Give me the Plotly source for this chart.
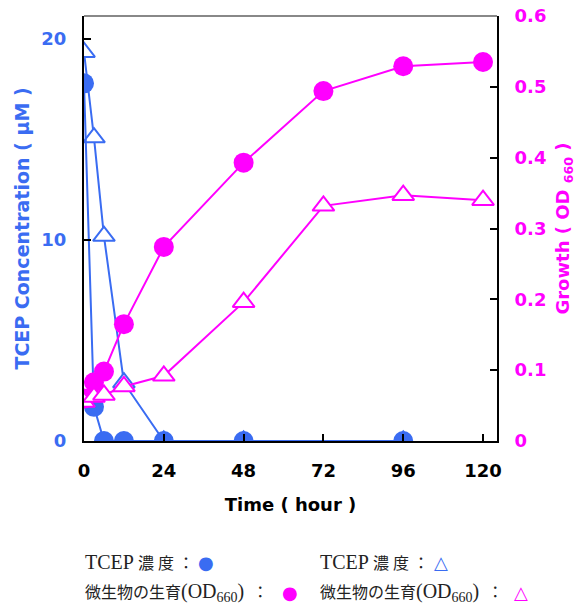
import plotly.graph_objects as go

# ---- data ----
tcep_circle_t = [0, 3, 6, 12, 24, 48, 96]
tcep_circle_v = [17.8, 1.7, 0.0, 0.0, 0.0, 0.0, 0.0]

tcep_tri_t = [0, 3, 6, 12, 24, 48, 96]
tcep_tri_v = [19.35, 15.1, 10.2, 2.9, 0.0, 0.0, 0.0]

growth_circle_t = [0, 3, 6, 12, 24, 48, 72, 96, 120]
growth_circle_v = [0.060, 0.083, 0.098, 0.165, 0.274, 0.393, 0.494, 0.529, 0.535]

growth_tri_t = [0, 3, 6, 12, 24, 48, 72, 96, 120]
growth_tri_v = [0.055, 0.062, 0.065, 0.077, 0.092, 0.196, 0.332, 0.347, 0.340]

x_ticks = [0, 24, 48, 72, 96, 120]
y_left_ticks = [0, 10, 20]
y_right_ticks = [0, 0.1, 0.2, 0.3, 0.4, 0.5, 0.6]
y_right_labels = ["0", "0.1", "0.2", "0.3", "0.4", "0.5", "0.6"]

BLUE = "#3a6cf2"
MAG = "#ff00ff"
TICKFONT = "DejaVu Sans"

fig = go.Figure()

fig.add_trace(go.Scatter(
    x=tcep_tri_t, y=tcep_tri_v, mode="lines+markers",
    line=dict(color=BLUE, width=2),
    marker=dict(symbol="triangle-up", size=19, color="white",
                line=dict(color=BLUE, width=2)),
    yaxis="y", showlegend=False))
fig.add_trace(go.Scatter(
    x=tcep_circle_t, y=tcep_circle_v, mode="lines+markers",
    line=dict(color=BLUE, width=2),
    marker=dict(symbol="circle", size=20, color=BLUE),
    yaxis="y", showlegend=False))
fig.add_trace(go.Scatter(
    x=growth_circle_t, y=growth_circle_v, mode="lines+markers",
    line=dict(color=MAG, width=2),
    marker=dict(symbol="circle", size=20, color=MAG),
    yaxis="y2", showlegend=False))
fig.add_trace(go.Scatter(
    x=growth_tri_t, y=growth_tri_v, mode="lines+markers",
    line=dict(color=MAG, width=2),
    marker=dict(symbol="triangle-up", size=19, color="white",
                line=dict(color=MAG, width=2)),
    yaxis="y2", showlegend=False))

W, H = 579, 604
L, R, T, B = 84, 497, 16, 441

fig.update_layout(
    width=W, height=H,
    margin=dict(l=L, r=W - R, t=T, b=H - B, autoexpand=False),
    paper_bgcolor="white", plot_bgcolor="white",
    xaxis=dict(
        range=[0, 124.2], tickvals=x_ticks, ticktext=[str(v) for v in x_ticks],
        ticks="inside", ticklen=7, tickwidth=2, tickcolor="black",
        showline=True, linecolor="black", linewidth=2,
        showgrid=False, zeroline=False,
        tickfont=dict(family=TICKFONT, size=18, color="black", weight="bold"),
        ticklabelstandoff=12,
        title=dict(text="<b>Time ( hour )</b>",
                   font=dict(family=TICKFONT, size=18, color="black"),
                   standoff=19),
    ),
    yaxis=dict(
        range=[0, 21.15], tickvals=y_left_ticks,
        ticks="inside", ticklen=7, tickwidth=2, tickcolor="black",
        showline=True, linecolor="black", linewidth=2,
        showgrid=False, zeroline=False,
        tickfont=dict(family=TICKFONT, size=18, color=BLUE, weight="bold"),
        ticklabelstandoff=12,
        title=dict(text="<b>TCEP Concentration ( μM )</b>",
                   font=dict(family=TICKFONT, size=19, color=BLUE),
                   standoff=7),
    ),
    yaxis2=dict(
        range=[0, 0.6], tickvals=y_right_ticks, ticktext=y_right_labels,
        overlaying="y", side="right",
        ticks="inside", ticklen=7, tickwidth=2, tickcolor="black",
        showline=True, linecolor="black", linewidth=2,
        showgrid=False, zeroline=False,
        tickfont=dict(family=TICKFONT, size=18, color=MAG, weight="bold"),
        ticklabelstandoff=12,
        title=dict(text="<b>Growth ( OD <sub>660</sub> )</b>",
                   font=dict(family=TICKFONT, size=18, color=MAG),
                   standoff=11),
    ),
)

# top border (gray)
fig.add_shape(type="line", xref="paper", yref="paper", x0=0, x1=1, y0=1, y1=1,
              line=dict(color="#888888", width=2))

# ---- legend-like caption below the chart ----
def px(xp):
    return (xp - L) / (R - L)

def py(yp):
    return (B - yp) / (B - T)

CAP = "Liberation Serif, Noto Sans CJK JP"
LAT = "<span style='font-size:20px'>%s</span>"
row1 = LAT % "TCEP" + " 濃 度 ："
row2 = "微生物の生育" + LAT % "(OD<sub>660</sub>)" + "&nbsp;&nbsp;："
caps = [
    (83, 562, row1),
    (318, 562, row1),
    (83, 592, row2),
    (318, 592, row2),
]
for xp, yp, txt in caps:
    fig.add_annotation(x=px(xp), y=py(yp), xref="paper", yref="paper",
                       text=txt, showarrow=False, xanchor="left", yanchor="middle",
                       font=dict(family=CAP, size=16, color="#222222"))
syms = [
    (206, 562, "●", BLUE),
    (441, 562, "△", BLUE),
    (290, 592, "●", MAG),
    (521, 592, "△", MAG),
]
for xp, yp, s, c in syms:
    fig.add_annotation(x=px(xp), y=py(yp), xref="paper", yref="paper",
                       text=s, showarrow=False, xanchor="center", yanchor="middle",
                       font=dict(family="DejaVu Sans", size=18, color=c))

fig.write_html("out.html", config={"displayModeBar": False},
               post_script="document.body.style.margin='0';document.body.style.overflow='hidden';")
